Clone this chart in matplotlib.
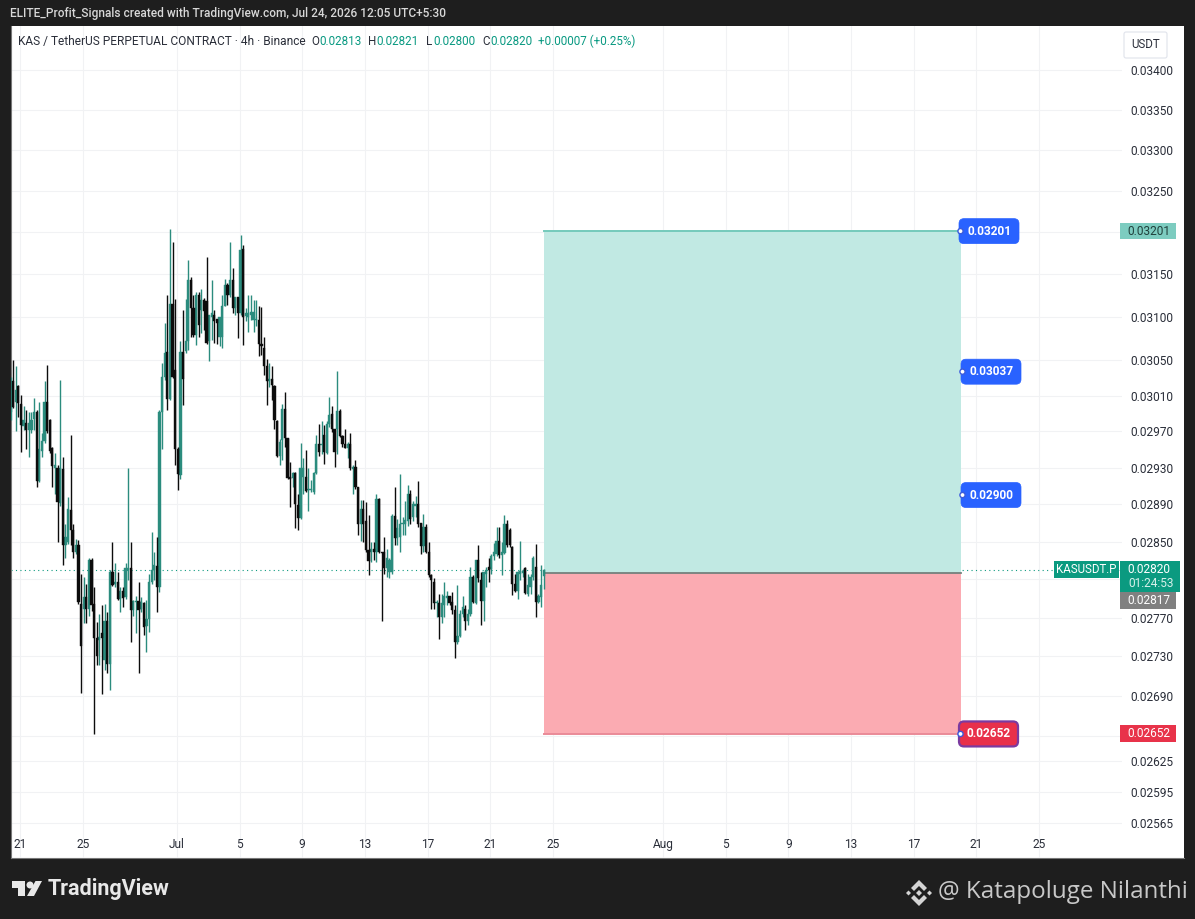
import numpy as np
import pandas as pd
import matplotlib
matplotlib.use("Agg")
import matplotlib.pyplot as plt
import matplotlib.dates as mdates
from matplotlib.patches import Rectangle, FancyBboxPatch, Circle, Polygon
from matplotlib.ticker import NullLocator, NullFormatter

plt.rcParams['font.family'] = ['Roboto', 'DejaVu Sans']

# OHLC of the 4h candles, in units of 0.00001 USDT
opens = [
    2992, 3026, 3003, 3021, 3001, 2976, 2979, 2972, 2972, 2984,
    2992, 2915, 2948, 2959, 3003, 2983, 2952, 2929, 2929, 2891,
    2928, 2846, 2849, 2884, 2862, 2839, 2846, 2784, 2779, 2791,
    2779, 2830, 2784, 2749, 2747, 2754, 2726, 2767, 2722, 2818,
    2805, 2807, 2789, 2798, 2791, 2820, 2822, 2778, 2786, 2787,
    2779, 2785, 2761, 2769, 2807, 2820, 2824, 2802, 2992, 3031,
    3059, 3006, 3115, 3039, 2950, 2922, 3060, 3061, 3072, 3143,
    3110, 3079, 3125, 3108, 3120, 3118, 3072, 3100, 3102, 3097,
    3077, 3077, 3113, 3137, 3125, 3143, 3110, 3123, 3104, 3180,
    3101, 3100, 3102, 3096, 3096, 3096, 3069, 3064, 3044, 3027,
    3029, 3021, 2982, 2943, 2960, 2995, 2963, 2920, 2919, 2924,
    2889, 2875, 2920, 2920, 2906, 2906, 2903, 2924, 2956, 2955,
    2966, 2946, 2978, 2989, 2973, 2973, 2993, 2965, 2956, 2952,
    2956, 2928, 2931, 2909, 2869, 2885, 2872, 2841, 2839, 2842,
    2839, 2896, 2839, 2839, 2822, 2818, 2818, 2877, 2854, 2855,
    2869, 2869, 2872, 2901, 2876, 2888, 2890, 2870, 2845, 2865,
    2839, 2814, 2807, 2785, 2785, 2771, 2783, 2790, 2792, 2786,
    2778, 2745, 2751, 2774, 2779, 2766, 2774, 2812, 2785, 2830,
    2809, 2787, 2816, 2823, 2821, 2835, 2837, 2851, 2836, 2838,
    2869, 2862, 2844, 2805, 2798, 2816, 2817, 2822, 2795, 2802,
    2812, 2823, 2786, 2791, 2813,
]
highs = [
    3031, 3050, 3043, 3022, 3011, 2998, 2994, 2992, 2992, 3007,
    2994, 3003, 2968, 3026, 3045, 2984, 2953, 2946, 2933, 3028,
    2942, 2869, 2898, 2966, 2869, 2853, 2852, 2816, 2812, 2805,
    2832, 2832, 2802, 2765, 2774, 2783, 2784, 2776, 2820, 2849,
    2827, 2818, 2802, 2802, 2827, 2929, 2849, 2788, 2793, 2807,
    2791, 2786, 2788, 2816, 2860, 2839, 2855, 2994, 3047, 3093,
    3125, 3203, 3188, 3121, 2953, 3072, 3108, 3121, 3167, 3146,
    3125, 3129, 3129, 3132, 3122, 3170, 3102, 3143, 3108, 3097,
    3100, 3125, 3144, 3139, 3188, 3157, 3123, 3123, 3196, 3185,
    3110, 3125, 3125, 3120, 3120, 3112, 3111, 3077, 3052, 3047,
    3044, 3022, 2983, 2962, 3001, 3014, 2963, 2936, 2925, 2925,
    2901, 2957, 2941, 2949, 2930, 2916, 2925, 2966, 2978, 2981,
    2977, 2981, 3008, 2998, 2973, 3038, 2995, 2966, 2973, 2958,
    2968, 2933, 2938, 2909, 2895, 2895, 2893, 2878, 2850, 2850,
    2901, 2897, 2839, 2855, 2842, 2832, 2879, 2909, 2874, 2923,
    2876, 2894, 2911, 2905, 2894, 2899, 2915, 2870, 2880, 2869,
    2850, 2816, 2811, 2788, 2795, 2795, 2807, 2798, 2793, 2797,
    2783, 2804, 2778, 2793, 2783, 2779, 2823, 2814, 2830, 2846,
    2818, 2818, 2823, 2833, 2837, 2848, 2865, 2865, 2850, 2878,
    2873, 2864, 2845, 2816, 2819, 2851, 2821, 2823, 2816, 2816,
    2835, 2847, 2795, 2825, 2821,
]
lows = [
    2983, 2996, 2970, 2986, 2947, 2972, 2950, 2942, 2968, 2972,
    2909, 2914, 2942, 2957, 2968, 2946, 2909, 2901, 2849, 2888,
    2825, 2832, 2847, 2846, 2832, 2837, 2784, 2693, 2764, 2764,
    2772, 2777, 2652, 2721, 2721, 2692, 2716, 2713, 2696, 2803,
    2802, 2788, 2776, 2781, 2789, 2809, 2745, 2772, 2754, 2713,
    2776, 2752, 2735, 2755, 2805, 2809, 2776, 2797, 2950, 3028,
    2994, 3005, 3030, 2933, 2905, 2917, 2999, 3058, 3062, 3077,
    3077, 3067, 3077, 3081, 3085, 3069, 3049, 3073, 3070, 3069,
    3066, 3064, 3112, 3114, 3123, 3104, 3102, 3075, 3102, 3067,
    3095, 3083, 3096, 3083, 3089, 3055, 3056, 3033, 2999, 3020,
    3005, 2973, 2942, 2933, 2938, 2953, 2918, 2887, 2909, 2864,
    2862, 2874, 2901, 2903, 2883, 2903, 2901, 2923, 2943, 2945,
    2934, 2945, 2975, 2969, 2931, 2945, 2964, 2953, 2951, 2941,
    2927, 2901, 2907, 2857, 2851, 2850, 2839, 2814, 2828, 2830,
    2828, 2838, 2767, 2816, 2812, 2811, 2816, 2846, 2846, 2839,
    2857, 2857, 2867, 2869, 2872, 2876, 2865, 2837, 2839, 2838,
    2812, 2779, 2779, 2771, 2748, 2764, 2771, 2783, 2783, 2774,
    2728, 2743, 2750, 2771, 2757, 2762, 2772, 2785, 2784, 2807,
    2762, 2767, 2802, 2807, 2816, 2830, 2835, 2832, 2814, 2837,
    2844, 2844, 2794, 2797, 2789, 2809, 2812, 2795, 2793, 2795,
    2809, 2771, 2785, 2781, 2800,
]
closes = [
    3024, 2997, 3016, 3002, 2977, 2983, 2971, 2979, 2983, 2991,
    2915, 2950, 2959, 3003, 2970, 2948, 2932, 2933, 2892, 2929,
    2846, 2855, 2885, 2862, 2839, 2846, 2786, 2741, 2791, 2779,
    2830, 2783, 2749, 2730, 2750, 2749, 2767, 2722, 2818, 2804,
    2807, 2789, 2798, 2790, 2822, 2822, 2778, 2787, 2787, 2778,
    2786, 2760, 2769, 2807, 2820, 2825, 2802, 2992, 3031, 3058,
    3006, 3115, 3031, 2950, 2923, 3060, 3029, 3072, 3143, 3110,
    3079, 3125, 3091, 3120, 3107, 3070, 3102, 3104, 3095, 3093,
    3100, 3113, 3137, 3125, 3143, 3110, 3123, 3104, 3179, 3100,
    3104, 3105, 3106, 3106, 3098, 3069, 3066, 3043, 3027, 3029,
    3022, 2983, 2943, 2958, 2995, 2963, 2919, 2918, 2924, 2890,
    2875, 2929, 2929, 2904, 2907, 2907, 2924, 2956, 2947, 2956,
    2947, 2978, 2988, 2973, 2947, 2993, 2965, 2956, 2952, 2956,
    2929, 2931, 2909, 2869, 2885, 2869, 2841, 2829, 2842, 2839,
    2896, 2839, 2838, 2822, 2832, 2830, 2877, 2854, 2864, 2869,
    2870, 2873, 2901, 2874, 2890, 2890, 2869, 2845, 2865, 2839,
    2814, 2809, 2785, 2786, 2771, 2785, 2793, 2793, 2785, 2778,
    2745, 2751, 2774, 2781, 2766, 2774, 2812, 2786, 2830, 2811,
    2787, 2818, 2820, 2820, 2835, 2839, 2851, 2836, 2839, 2869,
    2846, 2846, 2805, 2798, 2818, 2819, 2819, 2796, 2804, 2812,
    2833, 2786, 2793, 2804, 2820,
]
LAST_CANDLE = "2026-07-24 09:30"

# long position tool
target_price = 0.03201
tp_levels = [0.03201, 0.03037, 0.02900]
entry_price = 0.02817
stop_price = 0.02652
tool_end = "2026-08-20 00:00"

# axes ticks
price_grid = [0.03400, 0.03350, 0.03300, 0.03250, 0.03200, 0.03150, 0.03100, 0.03050,
              0.03010, 0.02970, 0.02930, 0.02890, 0.02850, 0.02810, 0.02770, 0.02730,
              0.02690, 0.02650, 0.02625, 0.02595, 0.02565]
price_labels = ["0.03400", "0.03350", "0.03300", "0.03250", "", "0.03150", "0.03100", "0.03050",
                "0.03010", "0.02970", "0.02930", "0.02890", "0.02850", "", "0.02770", "0.02730",
                "0.02690", "", "0.02625", "0.02595", "0.02565"]
tick_dates = ["2026-06-21", "2026-06-25", "2026-07-01", "2026-07-05", "2026-07-09", "2026-07-13",
              "2026-07-17", "2026-07-21", "2026-07-25", "2026-08-01", "2026-08-05", "2026-08-09",
              "2026-08-13", "2026-08-17", "2026-08-21", "2026-08-25"]
tick_labels = ["21", "25", "Jul", "5", "9", "13", "17", "21", "25", "Aug", "5", "9", "13", "17", "21", "25"]

W, H = 1195, 919
BG = "#1e1e1e"
TEAL = "#2b8c7e"
BLACK = "#0c0c0c"
GRID = "#f1f2f4"
TEXT = "#2a2e39"

o = np.array(opens) * 1e-5
h = np.array(highs) * 1e-5
l = np.array(lows) * 1e-5
c = np.array(closes) * 1e-5
times = mdates.date2num(pd.date_range(end=LAST_CANDLE, periods=len(o), freq="4h"))
up = c >= o

fig = plt.figure(figsize=(W / 100, H / 100), dpi=100, facecolor=BG)


def box(x0, y0, x1, y1):
    return [x0 / W, 1 - y1 / H, (x1 - x0) / W, (y1 - y0) / H]


# white pane + price scale behind the chart
panel = fig.add_axes(box(11, 26, 1184, 858), zorder=0)
panel.set_xticks([])
panel.set_yticks([])
for s in panel.spines.values():
    s.set_visible(False)
panel.spines['bottom'].set_visible(True)
panel.spines['bottom'].set_color("#777777")

ax = fig.add_axes(box(11, 26, 1122, 858), zorder=1)
ax.patch.set_alpha(0)
for s in ax.spines.values():
    s.set_visible(False)
ax.spines['left'].set_visible(True)
ax.spines['left'].set_color("#777777")

day0 = mdates.date2num(pd.Timestamp("2026-06-21"))
ax.set_xlim(day0 - 9 / 15.68, day0 + 1102 / 15.68)
ax.set_yscale("log")
ax.set_ylim(0.025317, 0.034564)
ax.yaxis.set_minor_locator(NullLocator())
ax.yaxis.set_minor_formatter(NullFormatter())
ax.yaxis.tick_right()
ax.set_yticks(price_grid)
ax.set_yticklabels(price_labels)
ax.set_xticks(mdates.date2num(pd.to_datetime(tick_dates)))
ax.set_xticklabels(tick_labels)
ax.tick_params(axis="y", length=0, pad=6, labelsize=8.6, labelcolor=TEXT)
ax.tick_params(axis="x", length=0, pad=-14.7, labelsize=8.6, labelcolor=TEXT)
ax.grid(True, color=GRID, lw=0.8, zorder=0)
ax.set_axisbelow(True)

ax.axhline(c[-1], color="#0f9a80", lw=0.8, ls=(0, (1, 3)), zorder=1)

# position tool
t0 = times[-1]
t1 = mdates.date2num(pd.Timestamp(tool_end))
ax.fill_between([t0, t1], entry_price, target_price, color="#c1e9e3", lw=0, zorder=1.5)
ax.fill_between([t0, t1], stop_price, entry_price, color="#fbabb2", lw=0, zorder=1.5)
ax.plot([t0, t1], [target_price, target_price], color="#74cabb", lw=1.4, zorder=1.6)
ax.plot([t0, t1], [entry_price, entry_price], color="#74807c", lw=1.3, zorder=1.6)
ax.plot([t0, t1], [stop_price, stop_price], color="#ea8b98", lw=1.4, zorder=1.6)

# candles, drawn a bit heavy like the jpeg source
ax.vlines(times[up], l[up], h[up], color=TEAL, lw=1.0, zorder=3)
ax.vlines(times[~up], l[~up], h[~up], color=BLACK, lw=1.0, zorder=3.1)
bw = 0.85 / 6
ax.bar(times[up], (c - o)[up], bottom=o[up], width=bw, color=TEAL, edgecolor=TEAL, lw=0.3, zorder=3)
ax.bar(times[~up], (o - c)[~up], bottom=c[~up], width=bw, color=BLACK, edgecolor=BLACK, lw=0.3, zorder=3.1)

# overlay in image pixels for header, tags and footer
ov = fig.add_axes([0, 0, 1, 1], zorder=3)
ov.set_xlim(0, W)
ov.set_ylim(H, 0)
ov.axis("off")


def y_px(price):
    return H - ax.transData.transform((t0, price))[1]


def rect(x0, y0, x1, y1, color):
    ov.add_patch(Rectangle((x0, y0), x1 - x0, y1 - y0, fc=color, ec="none"))


def tag(x0, x1, price, txt, fc, ec):
    y = y_px(price)
    ov.add_patch(FancyBboxPatch((x0, y - 12.5), x1 - x0, 25, boxstyle="round,pad=0,rounding_size=5",
                                fc=fc, ec=ec, lw=1.6 if ec != fc else 0.5))
    ov.add_patch(Circle((x0 + 1.5, y), 2.6, fc="white", ec="#3b5bdb", lw=1, zorder=5))
    ov.text((x0 + x1) / 2 + 0.5, y, txt, color="white", fontsize=8.6, fontweight="bold", ha="center", va="center")


# header
ov.text(10, 14, "ELITE_Profit_Signals created with TradingView.com, Jul 24, 2026 12:05 UTC+5:30",
        color="#d8d8d8", fontsize=8.57, ha="left", va="center", fontweight="medium")
ov.text(18, 41.5, "KAS / TetherUS PERPETUAL CONTRACT · 4h · Binance", color=TEXT, fontsize=8.6, ha="left", va="center")
ohlc_parts = [(311, "O", TEXT), (319.5, "0.02813", "#089981"), (368, "H", TEXT), (376, "0.02821", "#089981"),
              (426, "L", TEXT), (433, "0.02800", "#089981"), (482, "C", TEXT), (490, "0.02820", "#089981"),
              (538.5, "+0.00007 (+0.25%)", "#089981")]
for x, s, col in ohlc_parts:
    ov.text(x, 41.5, s, color=col, fontsize=8.35, ha="left", va="center")

# currency box
ov.add_patch(FancyBboxPatch((1124, 32), 43, 26, boxstyle="round,pad=0,rounding_size=2", fc="white", ec="#e0e3eb", lw=0.8))
ov.text(1146, 44.5, "USDT", color=TEXT, fontsize=8.3, ha="center", va="center")

# position tool tags
tag(959, 1019, tp_levels[0], "0.03201", "#2962ff", "#2962ff")
tag(961, 1021, tp_levels[1], "0.03037", "#2962ff", "#2962ff")
tag(961, 1021, tp_levels[2], "0.02900", "#2962ff", "#2962ff")
tag(959, 1018, stop_price, "0.02652", "#e8304a", "#7b3aa0")

# price scale labels
rect(1120, 223, 1176, 239, "#7dccc0")
ov.text(1149, 231.5, "0.03201", color="#20403b", fontsize=8.6, ha="center", va="center")
rect(1054, 561, 1119, 578, "#0b9a80")
ov.text(1086.5, 569.5, "KASUSDT.P", color="white", fontsize=8.3, ha="center", va="center")
rect(1120, 561, 1180, 592, "#0b9a80")
ov.text(1149, 569.5, "0.02820", color="white", fontsize=8.6, ha="center", va="center")
ov.text(1151, 583.5, "01:24:53", color="#d7f0ea", fontsize=8.6, ha="center", va="center")
rect(1120, 592, 1176, 609, "#808080")
ov.text(1149, 600.5, "0.02817", color="white", fontsize=8.6, ha="center", va="center")
rect(1120, 725, 1176, 742, "#e8334a")
ov.text(1149, 733.5, "0.02652", color="white", fontsize=8.6, ha="center", va="center")

# footer
ov.add_patch(Polygon([(12, 881), (25, 881), (25, 896), (18, 896), (18, 888), (12, 888)], fc="#e8e8e8", ec="none"))
ov.add_patch(Circle((30, 885), 3.5, fc="#e8e8e8", ec="none"))
ov.add_patch(Polygon([(35.5, 881), (42, 881), (34, 896), (27, 896)], fc="#e8e8e8", ec="none"))
ov.text(48, 889, "TradingView", color="#e8e8e8", fontsize=15.5, fontweight="bold", ha="left", va="center")
ov.text(938, 892, "@ Katapoluge Nilanthi", color="#c8c8c8", fontsize=17.4, family="Open Sans", ha="left", va="center")

# watermark icon
ICON = "#d4d4d4"
ov.add_patch(Polygon([(919, 880), (927, 888), (924, 891), (919, 886), (914, 891), (911, 888)], fc=ICON, ec="none"))
ov.add_patch(Polygon([(919, 906), (927, 898), (924, 895), (919, 900), (914, 895), (911, 898)], fc=ICON, ec="none"))
for cx, r in [(908.5, 2.5), (919, 3), (929.5, 2.5)]:
    ov.add_patch(Polygon([(cx, 893 - r), (cx + r, 893), (cx, 893 + r), (cx - r, 893)], fc=ICON, ec="none"))

fig.savefig("out.png", dpi=100, facecolor=BG)
